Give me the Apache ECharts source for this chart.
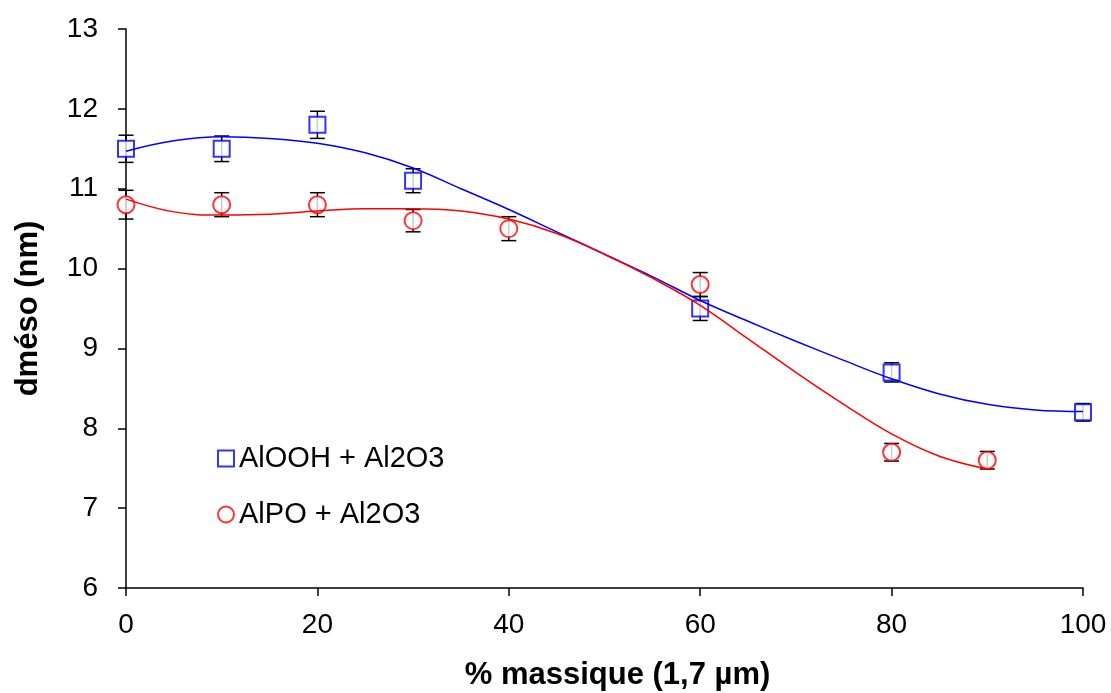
<!DOCTYPE html>
<html>
<head>
<meta charset="utf-8">
<script src="https://cdn.jsdelivr.net/npm/echarts@6/dist/echarts.min.js"></script>
<style>html,body{margin:0;padding:0;background:#fff;}#c{width:1111px;height:693px;}</style>
</head>
<body>
<div id="c"></div>
<script>
// Measured points
const blueX = [0, 10, 20, 30, 60, 80, 100];
const blueY = [11.5, 11.5, 11.8, 11.1, 9.5, 8.7, 8.2];
const blueErr = [0.17, 0.16, 0.17, 0.15, 0.15, 0.12, 0.11];
const redX = [0, 10, 20, 30, 40, 60, 80, 90];
const redY = [10.8, 10.8, 10.8, 10.6, 10.5, 9.8, 7.7, 7.6];
const redErr = [0.18, 0.15, 0.15, 0.14, 0.15, 0.15, 0.11, 0.11];
// Trend curves
const blueTrendX = [0,5,10,15,20,25,30,35,40,45,50,55,60,65,70,75,80,85,90,95,100];
const blueTrendY = [11.47,11.60,11.65,11.63,11.57,11.45,11.26,11.0,10.74,10.46,10.18,9.9,9.6,9.34,9.09,8.85,8.62,8.43,8.3,8.23,8.21];
const redTrendX = [0,5,10,15,20,25,30,35,40,45,50,55,60,65,70,75,80,85,90];
const redTrendY = [10.87,10.71,10.67,10.68,10.72,10.75,10.75,10.72,10.62,10.44,10.18,9.88,9.54,9.12,8.70,8.30,7.93,7.65,7.49];
const xTicks = [0, 20, 40, 60, 80, 100];
const yTicks = [6, 7, 8, 9, 10, 11, 12, 13];
const seriesNames = ['AlOOH + Al2O3', 'AlPO + Al2O3'];

const FONT = '"Liberation Sans", Arial, sans-serif';
const zip = (a, b) => a.map((v, i) => [v, b[i]]);
const errData = (xs, ys, es) => xs.map((x, i) => [x, ys[i] - es[i], ys[i] + es[i]]);

function errRender(params, api) {
  const x = api.value(0);
  const lo = api.coord([x, api.value(1)]);
  const hi = api.coord([x, api.value(2)]);
  const w = 7.5;
  const st = { stroke: '#000', lineWidth: 1.5 };
  return {
    type: 'group',
    children: [
      { type: 'line', shape: { x1: lo[0], y1: lo[1], x2: hi[0], y2: hi[1] }, style: st },
      { type: 'line', shape: { x1: lo[0] - w, y1: lo[1], x2: lo[0] + w, y2: lo[1] }, style: st },
      { type: 'line', shape: { x1: hi[0] - w, y1: hi[1], x2: hi[0] + w, y2: hi[1] }, style: st }
    ]
  };
}

const chart = echarts.init(document.getElementById('c'), null, { renderer: 'canvas' });
chart.setOption({
  animation: false,
  backgroundColor: '#fff',
  textStyle: { fontFamily: FONT },
  grid: { left: 126, right: 28, top: 29, bottom: 105, containLabel: false, outerBoundsMode: 'none' },
  legend: {
    data: [
      { name: seriesNames[0], icon: 'rect' },
      { name: seriesNames[1], icon: 'circle' }
    ],
    orient: 'vertical',
    left: 212,
    top: 439,
    itemWidth: 16,
    itemHeight: 16,
    itemGap: 27,
    textStyle: { fontSize: 29, color: '#000', fontFamily: FONT }
  },
  xAxis: {
    type: 'value',
    min: 0, max: 100, interval: 20,
    name: '% massique (1,7 µm)',
    nameLocation: 'middle',
    nameGap: 72,
    nameTextStyle: { fontSize: 31, fontWeight: 'bold', color: '#000', fontFamily: FONT, padding: [0, 0, 0, 26] },
    axisLine: { lineStyle: { color: '#000', width: 1.5 } },
    axisTick: { show: true, length: 8, inside: false, lineStyle: { color: '#000', width: 1.5 } },
    axisLabel: { fontSize: 28, color: '#000', margin: 23, fontFamily: FONT },
    splitLine: { show: false }
  },
  yAxis: {
    type: 'value',
    min: 6, max: 13, interval: 1,
    name: 'dméso (nm)',
    nameLocation: 'middle',
    nameGap: 82,
    nameRotate: 90,
    nameTextStyle: { fontSize: 31, fontWeight: 'bold', color: '#000', fontFamily: FONT },
    axisLine: { show: true, lineStyle: { color: '#000', width: 1.5 } },
    axisTick: { show: true, length: 8, inside: false, lineStyle: { color: '#000', width: 1.5 } },
    axisLabel: { fontSize: 28, color: '#000', margin: 28, fontFamily: FONT },
    splitLine: { show: false }
  },
  series: [
    { type: 'custom', name: 'errBlue', renderItem: errRender, data: errData(blueX, blueY, blueErr), z: 1, silent: true },
    { type: 'custom', name: 'errRed', renderItem: errRender, data: errData(redX, redY, redErr), z: 1, silent: true },
    {
      type: 'scatter', name: seriesNames[0], data: zip(blueX, blueY), symbol: 'rect', symbolSize: 16, z: 2,
      itemStyle: { color: '#fff', borderColor: '#0000ff', borderWidth: 2 }
    },
    {
      type: 'scatter', name: seriesNames[1], data: zip(redX, redY), symbol: 'circle', symbolSize: 17, z: 2,
      itemStyle: { color: '#fff', borderColor: '#ff0000', borderWidth: 2 }
    },
    {
      type: 'line', name: 'trendBlue', data: zip(blueTrendX, blueTrendY), smooth: 0.4, showSymbol: false, z: 3,
      lineStyle: { color: '#0000ff', width: 1.5 }
    },
    {
      type: 'line', name: 'trendRed', data: zip(redTrendX, redTrendY), smooth: 0.4, showSymbol: false, z: 3,
      lineStyle: { color: '#ff0000', width: 1.5 }
    }
  ]
});
</script>
</body>
</html>
